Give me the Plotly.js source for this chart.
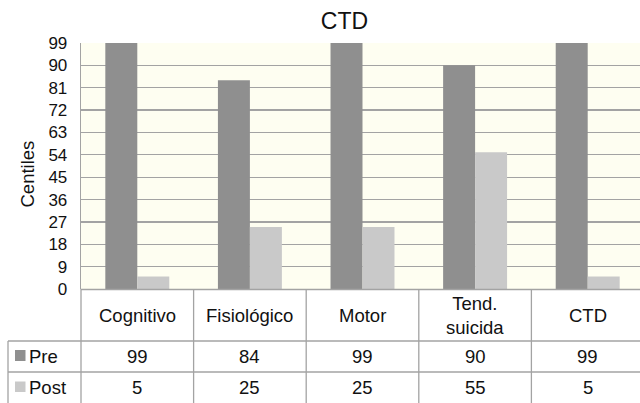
<!DOCTYPE html>
<html>
<head>
<meta charset="utf-8">
<script src="https://cdn.plot.ly/plotly-3.0.1.min.js"></script>
<style>html,body{margin:0;padding:0;background:#fff;}#chart{width:640px;height:403px;}</style>
</head>
<body>
<div id="chart"></div>
<script>
var categories = ['Cognitivo', 'Fisiológico', 'Motor', 'Tend. suicida', 'CTD'];
var headerLabels = ['Cognitivo', 'Fisiológico', 'Motor', 'Tend.<br>suicida', 'CTD'];
var seriesNames = ['Pre', 'Post'];
var preValues = [99, 84, 99, 90, 99];
var postValues = [5, 25, 25, 55, 5];
var yTicks = [0, 9, 18, 27, 36, 45, 54, 63, 72, 81, 90, 99];
var chartTitle = 'CTD';
var yTitle = 'Centiles';

var FONT = 'Liberation Sans, Arial, Helvetica, sans-serif';
var preColor = '#8f8f8f';
var postColor = '#c9c9c9';
var lineColor = '#a3a3a3';
var TABLE_FS = 18.5;

var traces = [
  {type: 'bar', name: seriesNames[0], x: categories, y: preValues, marker: {color: preColor}, showlegend: false, hoverinfo: 'x+y+name'},
  {type: 'bar', name: seriesNames[1], x: categories, y: postValues, marker: {color: postColor}, showlegend: false, hoverinfo: 'x+y+name'}
];

// pixel helpers for the data table drawn below the plot
var L = 81, T = 43, H = 246, W = 559;
function py(p) { return (T + H - p) / H; }
function px(p) { return (p - L) / W; }

var shapes = [];
var annotations = [];
function hline(x0, x1, y) {
  shapes.push({type: 'line', xref: 'paper', yref: 'paper', x0: px(x0), x1: px(x1), y0: py(y), y1: py(y), line: {color: lineColor, width: 1.3}});
}
hline(L, 640, 289.5);
hline(8, 640, 341);
hline(8, 640, 372);
shapes.push({type: 'line', xref: 'paper', yref: 'paper', x0: px(8), x1: px(8), y0: py(341), y1: py(403), line: {color: lineColor, width: 1.3}});
shapes.push({type: 'line', xref: 'paper', yref: 'paper', x0: 0, x1: 0, y0: py(289), y1: py(403), line: {color: lineColor, width: 1.3}});
for (var i = 0; i < categories.length - 1; i++) {
  shapes.push({type: 'line', xref: 'x', yref: 'paper', x0: i + 0.5, x1: i + 0.5, y0: py(289), y1: py(403), line: {color: lineColor, width: 1.3}});
}
var rows = [preValues, postValues];
var rowY = [356.5, 387.5];
for (var c = 0; c < categories.length; c++) {
  annotations.push({xref: 'x', yref: 'paper', x: categories[c], y: py(315.5), text: headerLabels[c], showarrow: false, xanchor: 'center', yanchor: 'middle', font: {family: FONT, size: TABLE_FS, color: '#111'}});
  for (var r = 0; r < rows.length; r++) {
    annotations.push({xref: 'x', yref: 'paper', x: categories[c], y: py(rowY[r]), text: String(rows[r][c]), showarrow: false, xanchor: 'center', yanchor: 'middle', font: {family: FONT, size: TABLE_FS, color: '#111'}});
  }
}
var keyColors = [preColor, postColor];
var keyY = [[350, 361], [381.5, 392]];
for (var r = 0; r < seriesNames.length; r++) {
  shapes.push({type: 'rect', xref: 'paper', yref: 'paper', x0: px(15), x1: px(25.5), y0: py(keyY[r][0]), y1: py(keyY[r][1]), fillcolor: keyColors[r], line: {width: 0}});
  annotations.push({xref: 'paper', yref: 'paper', x: px(26.5), y: py(rowY[r]), text: seriesNames[r], showarrow: false, xanchor: 'left', yanchor: 'middle', font: {family: FONT, size: TABLE_FS, color: '#111'}});
}
// y-axis title placed to match reference
annotations.push({xref: 'paper', yref: 'paper', x: px(26.5), y: py(174), text: yTitle, textangle: -90, showarrow: false, xanchor: 'center', yanchor: 'middle', font: {family: FONT, size: TABLE_FS, color: '#111'}});

var layout = {
  width: 640, height: 403,
  margin: {l: L, r: 0, t: T, b: 403 - T - H, pad: 0},
  paper_bgcolor: '#ffffff',
  plot_bgcolor: '#fefef1',
  font: {family: FONT, size: 17, color: '#111'},
  title: {text: chartTitle, font: {family: FONT, size: 23, color: '#111'}, xref: 'paper', x: px(344.5), xanchor: 'center', yref: 'container', y: 1 - 21 / 403, yanchor: 'middle'},
  barmode: 'group',
  bargap: 0.432,
  bargroupgap: 0,
  xaxis: {
    type: 'category', range: [-0.5, -0.5 + W / 112.6], showticklabels: false, ticks: '',
    showgrid: false, zeroline: false, showline: false, fixedrange: true
  },
  yaxis: {
    range: [0, 99], tickvals: yTicks, ticktext: yTicks.map(String), ticks: '', ticklabelstandoff: 9,
    tickfont: {family: FONT, size: 17, color: '#111'},
    showgrid: true, gridcolor: lineColor, gridwidth: 1.3, zeroline: false,
    showline: true, linecolor: lineColor, linewidth: 1.3, mirror: false, fixedrange: true
  },
  shapes: shapes,
  annotations: annotations
};

Plotly.newPlot('chart', traces, layout, {displayModeBar: false, staticPlot: true});
</script>
</body>
</html>
